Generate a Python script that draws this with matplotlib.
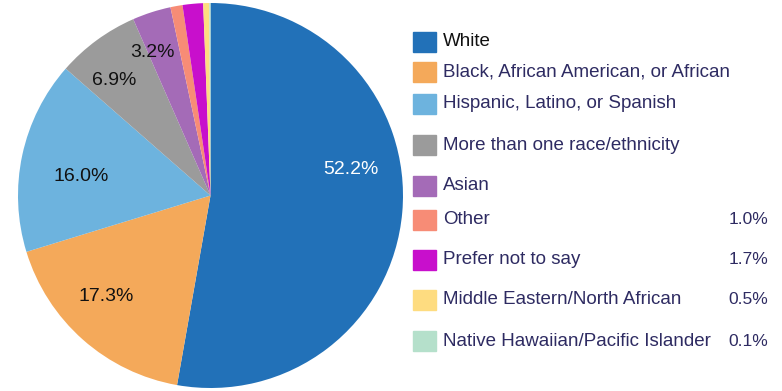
import matplotlib
matplotlib.use("Agg")
import matplotlib.pyplot as plt
import numpy as np
from matplotlib.patches import Rectangle

plt.rcParams["font.family"] = ["Liberation Sans", "DejaVu Sans"]

categories = [
    "White",
    "Black, African American, or African",
    "Hispanic, Latino, or Spanish",
    "More than one race/ethnicity",
    "Asian",
    "Other",
    "Prefer not to say",
    "Middle Eastern/North African",
    "Native Hawaiian/Pacific Islander",
]
shares = [52.2, 17.3, 16.0, 6.9, 3.2, 1.0, 1.7, 0.5, 0.1]
colors = ["#2271b8", "#f4a95a", "#6db3de", "#9b9b9b", "#a46bb7",
          "#f78c76", "#c80fcc", "#fedc80", "#b5e0cb"]
# values shown in the legend only for the small slices
legend_values = ["", "", "", "", "", "1.0%", "1.7%", "0.5%", "0.1%"]

navy = "#2e2b62"
W, H = 782, 391
fig = plt.figure(figsize=(W / 100, H / 100), dpi=100)

ax = fig.add_axes([18 / W, 2 / H, 385 / W, 387 / H])
wedges, _ = ax.pie(shares, colors=colors, startangle=90, counterclock=False,
                   wedgeprops=dict(linewidth=0))

# label placement tweaks (angle shift in degrees, radius) for the big slices
label_shift = [15.6, -4.3, 3.7, 3.8, 4.2]
label_r = [0.74, 0.755, 0.68, 0.78, 0.80]
for w, v, dth, r in zip(wedges, shares, label_shift, label_r):
    th = np.deg2rad((w.theta1 + w.theta2) / 2 + dth)
    ax.text(r * np.cos(th), r * np.sin(th), f"{v:.1f}%", fontsize=14,
            ha="center", va="center",
            color="white" if v > 50 else "#111111")
ax.set_xlim(-1, 1)
ax.set_ylim(-1, 1)
ax.set_aspect("equal")

# legend drawn by hand, rows not evenly spaced in the original
row_y = [42, 72, 104, 145, 186, 220, 260, 300, 341]
for name, c, val, y in zip(categories, colors, legend_values, row_y):
    fig.patches.append(Rectangle((413 / W, 1 - (y + 10) / H), 23 / W, 20 / H,
                                 transform=fig.transFigure, color=c))
    fig.text(443 / W, 1 - y / H, name, fontsize=13.5, va="center",
             color="#111111" if name == "White" else navy)
    if val:
        fig.text(768 / W, 1 - y / H, val, fontsize=12.5, va="center",
                 ha="right", color=navy)

fig.savefig("out.png", dpi=100)
